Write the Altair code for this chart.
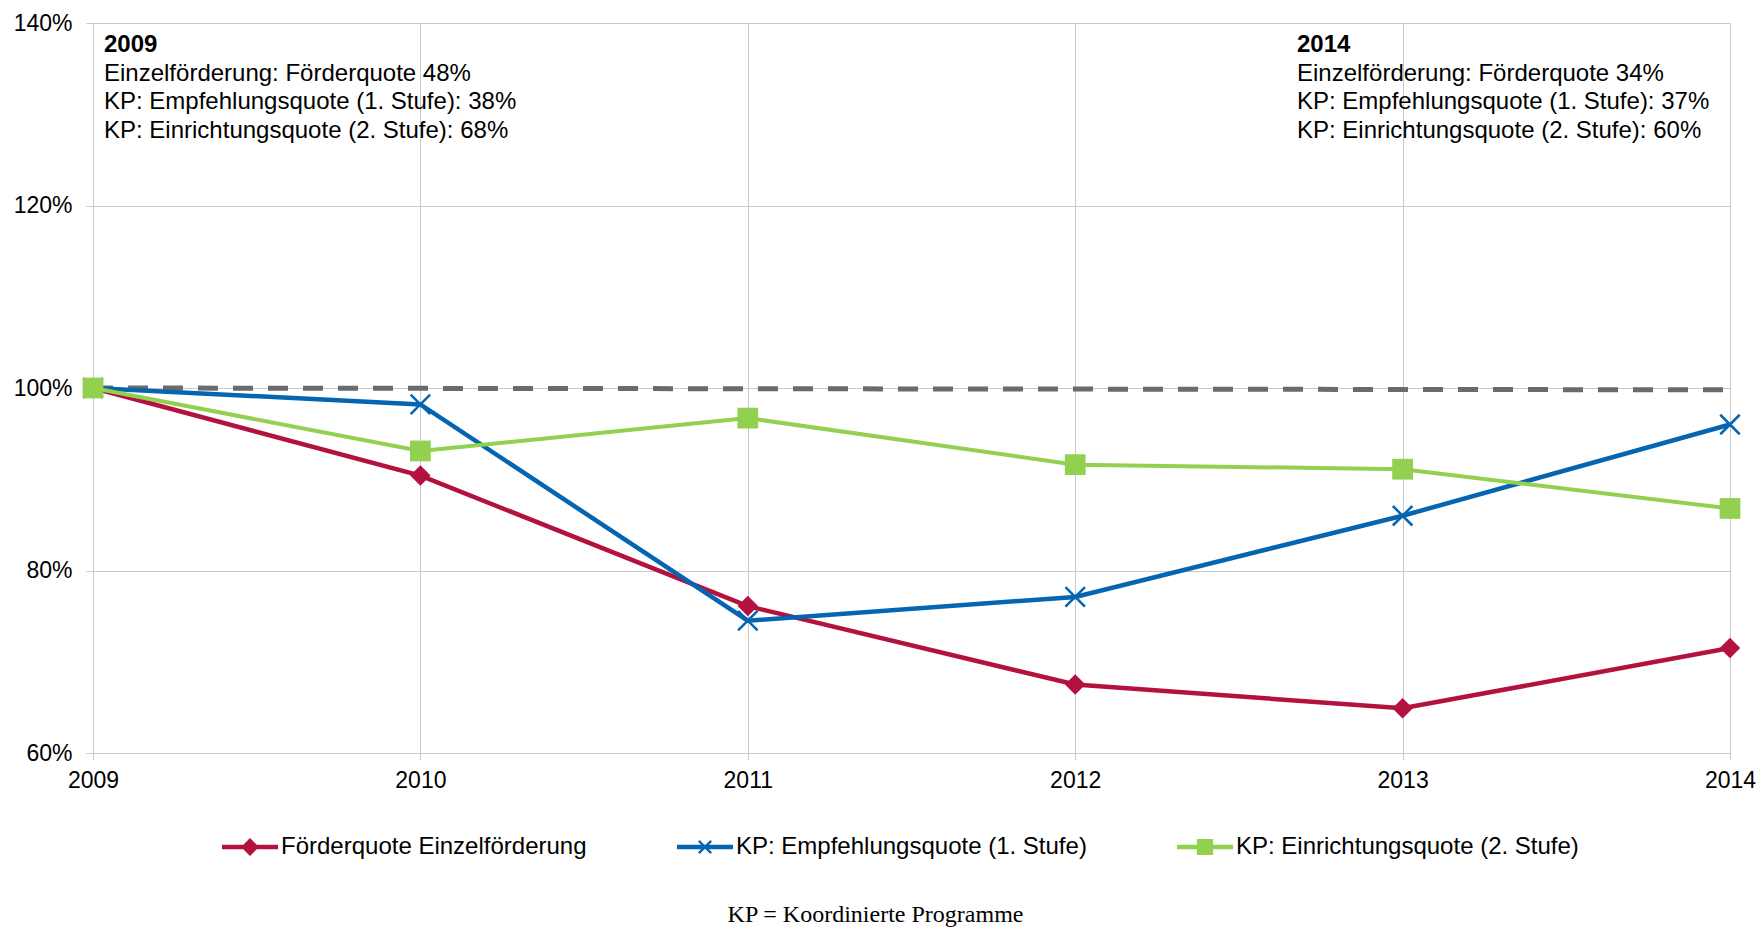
import altair as alt
import pandas as pd

years = [2009, 2010, 2011, 2012, 2013, 2014]
foerderquote = [100.0, 90.4, 76.1, 67.5, 64.9, 71.5]
empfehlungsquote = [100.0, 98.2, 74.5, 77.1, 86.0, 96.0]
einrichtungsquote = [100.0, 93.1, 96.7, 91.6, 91.1, 86.8]
series_names = [
    "Förderquote Einzelförderung",
    "KP: Empfehlungsquote (1. Stufe)",
    "KP: Einrichtungsquote (2. Stufe)",
]
series_colors = ["#B3123E", "#0665B0", "#92D050"]
ref_years = [2009, 2014]
ref_values = [100.0, 99.8]
y_ticks = [60, 80, 100, 120, 140]
ann_2009 = [
    "2009",
    "Einzelförderung: Förderquote 48%",
    "KP: Empfehlungsquote (1. Stufe): 38%",
    "KP: Einrichtungsquote (2. Stufe): 68%",
]
ann_2014 = [
    "2014",
    "Einzelförderung: Förderquote 34%",
    "KP: Empfehlungsquote (1. Stufe): 37%",
    "KP: Einrichtungsquote (2. Stufe): 60%",
]
caption = "KP = Koordinierte Programme"

FONT = "Liberation Sans"
FS = 24
AXIS_FS = 23

rows = []
for name, vals in zip(series_names, [foerderquote, empfehlungsquote, einrichtungsquote]):
    for yr, v in zip(years, vals):
        rows.append({"year": yr, "value": v, "series": name})
df = pd.DataFrame(rows)
ref_df = pd.DataFrame({"year": ref_years, "value": ref_values})

# legend symbols: line + marker as custom SVG paths
line_p = "M-1,-0.078L1,-0.078L1,0.078L-1,0.078Z"
leg_shapes = [
    line_p + "M0,-0.32L0.32,0L0,0.32L-0.32,0Z",
    line_p + "M-0.19,-0.25L0.25,0.19L0.19,0.25L-0.25,-0.19Z"
    + "M-0.19,0.25L-0.25,0.19L0.19,-0.25L0.25,-0.19Z",
    line_p + "M-0.29,-0.29L0.29,-0.29L0.29,0.29L-0.29,0.29Z",
]

legend = alt.Legend(
    title=None,
    orient="none",
    legendX=129,
    legendY=796,
    direction="horizontal",
    symbolSize=3136,
    symbolStrokeWidth=0,
    symbolOpacity=1,
    columnPadding=90,
    labelOffset=3,
    labelLimit=600,
    labelFont=FONT,
    labelFontSize=FS,
    labelColor="black",
)

x_enc = alt.X(
    "year:Q",
    scale=alt.Scale(domain=[2009, 2014], nice=False, zero=False),
    axis=alt.Axis(values=years, format="d", title=None, labelPadding=9, labelFlush=False),
)
y_enc = alt.Y(
    "value:Q",
    scale=alt.Scale(domain=[60, 140], nice=False, zero=False),
    axis=alt.Axis(values=y_ticks, labelExpr="datum.value + '%'", title=None, labelPadding=14),
)

base = alt.Chart(df)

ref_line = alt.Chart(ref_df).mark_line(
    color="#6B6B6B", strokeWidth=5, strokeDash=[20, 15]
).encode(x=x_enc, y=y_enc)

marker_props = [
    dict(shape="diamond", filled=True, size=420, opacity=1),
    dict(shape="M-1,-1L1,1M-1,1L1,-1", filled=False, size=380, strokeWidth=2.5, opacity=1),
    dict(shape="square", filled=True, size=430, opacity=1),
]
line_widths = [4.5, 4.5, 4]

layers = [ref_line]
for name, col, mp, lw in zip(series_names, series_colors, marker_props, line_widths):
    sub = base.transform_filter(alt.datum.series == name)
    layers.append(sub.mark_line(strokeWidth=lw, color=col).encode(x=x_enc, y=y_enc))
    layers.append(sub.mark_point(color=col, **mp).encode(x=x_enc, y=y_enc))

# legend-only layer (no data drawn)
legend_layer = (
    base.transform_filter("false")
    .mark_point(filled=True, opacity=1, strokeWidth=0)
    .encode(
        x=x_enc,
        y=y_enc,
        color=alt.Color("series:N", scale=alt.Scale(domain=series_names, range=series_colors), legend=legend),
        shape=alt.Shape("series:N", scale=alt.Scale(domain=series_names, range=leg_shapes), legend=legend),
    )
)
layers.append(legend_layer)

line_dy = [22, 51, 79, 108]
for block, xval, dx in [(ann_2009, 2009, 11), (ann_2014, 2014, -433)]:
    for i, txt in enumerate(block):
        layers.append(
            alt.Chart(pd.DataFrame({"year": [xval], "value": [140], "t": [txt]}))
            .mark_text(
                align="left",
                baseline="middle",
                dx=dx,
                dy=line_dy[i],
                font=FONT,
                fontSize=FS,
                fontWeight="bold" if i == 0 else "normal",
                color="black",
            )
            .encode(x=x_enc, y=y_enc, text="t:N")
        )

chart = (
    alt.layer(*layers)
    .properties(
        width=1637,
        height=730,
        padding={"left": 5, "top": 4, "right": 0, "bottom": 0},
        title=alt.TitleParams(
            caption,
            orient="bottom",
            anchor="middle",
            font="Liberation Serif",
            fontSize=24,
            fontWeight="normal",
            color="black",
            offset=44,
            dx=-36,
        ),
    )
    .configure_view(stroke=None)
    .configure_axis(
        gridColor="#C9C9C9",
        gridWidth=1,
        domainColor="#C9C9C9",
        tickColor="#C9C9C9",
        tickSize=7,
        labelFont=FONT,
        labelFontSize=AXIS_FS,
        labelColor="black",
    )
)

chart.save("out.html", embed_options={"renderer": "svg", "actions": False})
